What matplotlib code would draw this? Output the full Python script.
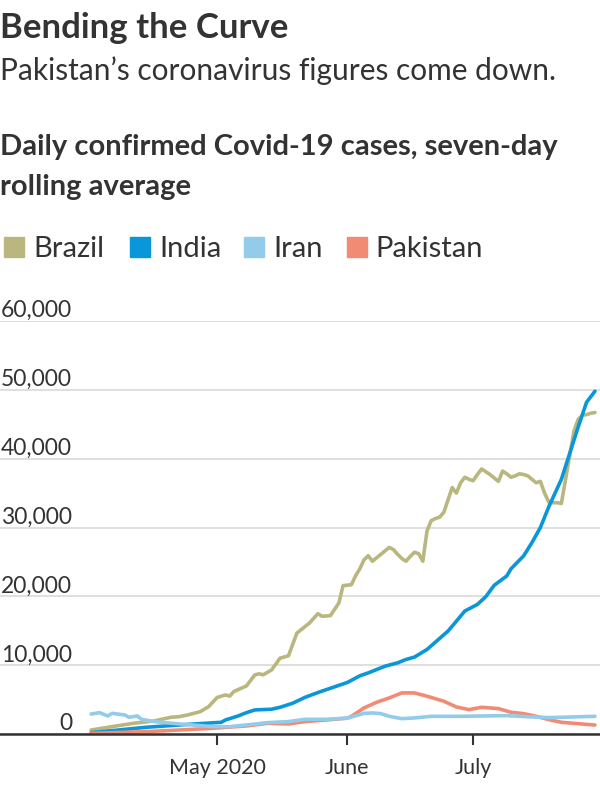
import matplotlib
matplotlib.use("Agg")
import matplotlib.pyplot as plt
import matplotlib.dates as mdates
from matplotlib.patches import Rectangle
from matplotlib import font_manager
from datetime import datetime

# ───── Data (7-day rolling avg of daily confirmed cases) ─────
brazil_dates = ["2020-04-01", "2020-04-06", "2020-04-11", "2020-04-16", "2020-04-20", "2020-04-22",
                "2020-04-24", "2020-04-27", "2020-04-29", "2020-05-01", "2020-05-03", "2020-05-04",
                "2020-05-05", "2020-05-08", "2020-05-10", "2020-05-11", "2020-05-12", "2020-05-14",
                "2020-05-16", "2020-05-18", "2020-05-20", "2020-05-23", "2020-05-25", "2020-05-26",
                "2020-05-28", "2020-05-30", "2020-05-31", "2020-06-02", "2020-06-03", "2020-06-04",
                "2020-06-05", "2020-06-06", "2020-06-07", "2020-06-08", "2020-06-09", "2020-06-10",
                "2020-06-11", "2020-06-12", "2020-06-13", "2020-06-14", "2020-06-15", "2020-06-16",
                "2020-06-17", "2020-06-18", "2020-06-19", "2020-06-20", "2020-06-21", "2020-06-22",
                "2020-06-23", "2020-06-24", "2020-06-25", "2020-06-26", "2020-06-27", "2020-06-28",
                "2020-06-29", "2020-06-30", "2020-07-01", "2020-07-02", "2020-07-03", "2020-07-04",
                "2020-07-05", "2020-07-06", "2020-07-07", "2020-07-08", "2020-07-09", "2020-07-10",
                "2020-07-11", "2020-07-12", "2020-07-13", "2020-07-14", "2020-07-15", "2020-07-16",
                "2020-07-17", "2020-07-18", "2020-07-19", "2020-07-20", "2020-07-21", "2020-07-22",
                "2020-07-23", "2020-07-24", "2020-07-25", "2020-07-26", "2020-07-27", "2020-07-28",
                "2020-07-29", "2020-07-30"]
brazil_vals = [580, 1070, 1550, 1890, 2430, 2520,
               2770, 3250, 3980, 5300, 5680, 5500,
               6170, 6990, 8590, 8740, 8600, 9320,
               11020, 11360, 14660, 16120, 17480, 17100,
               17200, 19030, 21550, 21700, 23000, 24000,
               25300, 25900, 25100, 25600, 26100, 26600,
               27100, 26800, 26100, 25500, 25100, 25800,
               26400, 26200, 25100, 29500, 31000, 31300,
               31500, 32200, 34000, 35800, 35000, 36500,
               37300, 37000, 36800, 37700, 38500, 38100,
               37700, 37200, 36700, 38200, 37800, 37300,
               37500, 37800, 37700, 37500, 37000, 36500,
               36700, 35000, 33700, 33600, 33600, 33500,
               37000, 40500, 44000, 45700, 46300, 46400,
               46600, 46700]

india_dates = ["2020-04-01", "2020-04-06", "2020-04-14", "2020-04-22", "2020-04-28", "2020-05-02",
               "2020-05-03", "2020-05-06", "2020-05-08", "2020-05-10", "2020-05-14", "2020-05-16",
               "2020-05-19", "2020-05-22", "2020-05-25", "2020-05-28", "2020-06-01", "2020-06-04",
               "2020-06-06", "2020-06-10", "2020-06-13", "2020-06-15", "2020-06-17", "2020-06-20",
               "2020-06-22", "2020-06-25", "2020-06-27", "2020-06-29", "2020-07-02", "2020-07-04",
               "2020-07-06", "2020-07-09", "2020-07-10", "2020-07-13", "2020-07-15", "2020-07-17",
               "2020-07-18", "2020-07-19", "2020-07-22", "2020-07-24", "2020-07-26", "2020-07-28",
               "2020-07-30"]
india_vals = [200, 490, 970, 1310, 1550, 1700,
              2040, 2620, 3100, 3500, 3600, 3880,
              4470, 5340, 6020, 6650, 7480, 8450,
              8880, 9850, 10340, 10830, 11170, 12280,
              13350, 14950, 16400, 17860, 18830, 19950,
              21600, 22960, 24000, 25870, 27810, 30000,
              31500, 33000, 37000, 40800, 44600, 48200,
              49800]

iran_dates = ["2020-04-01", "2020-04-03", "2020-04-05", "2020-04-06", "2020-04-09", "2020-04-10",
              "2020-04-12", "2020-04-13", "2020-04-16", "2020-04-22", "2020-04-30", "2020-05-04",
              "2020-05-08", "2020-05-13", "2020-05-18", "2020-05-22", "2020-05-27", "2020-06-01",
              "2020-06-05", "2020-06-07", "2020-06-09", "2020-06-11", "2020-06-14", "2020-06-17",
              "2020-06-21", "2020-06-28", "2020-07-09", "2020-07-15", "2020-07-19", "2020-07-25",
              "2020-07-30"]
iran_vals = [2900, 3100, 2620, 3000, 2770, 2430,
             2620, 2140, 1800, 1460, 1070, 1070,
             1310, 1650, 1800, 2140, 2140, 2300,
             3000, 3060, 2960, 2570, 2230, 2330,
             2570, 2570, 2670, 2480, 2380, 2480,
             2570]

pakistan_dates = ["2020-04-01", "2020-04-14", "2020-04-22", "2020-04-30", "2020-05-08", "2020-05-13",
                  "2020-05-18", "2020-05-22", "2020-05-27", "2020-06-01", "2020-06-02", "2020-06-05",
                  "2020-06-08", "2020-06-11", "2020-06-14", "2020-06-17", "2020-06-20", "2020-06-24",
                  "2020-06-27", "2020-06-30", "2020-07-03", "2020-07-07", "2020-07-10", "2020-07-13",
                  "2020-07-16", "2020-07-19", "2020-07-22", "2020-07-26", "2020-07-30"]
pakistan_vals = [100, 340, 580, 830, 1170, 1550,
                 1460, 1800, 2040, 2300, 2570, 3790,
                 4610, 5240, 5970, 5970, 5490, 4760,
                 3930, 3540, 3880, 3690, 3160, 2960,
                 2570, 2090, 1700, 1500, 1300]

series = [
    ("Brazil", brazil_dates, brazil_vals, "#b9b77f"),
    ("India", india_dates, india_vals, "#0a97d9"),
    ("Iran", iran_dates, iran_vals, "#93cbea"),
    ("Pakistan", pakistan_dates, pakistan_vals, "#f28b74"),
]
draw_order = ["Brazil", "India", "Pakistan", "Iran"]

y_ticks = [0, 10000, 20000, 30000, 40000, 50000, 60000]
x_ticks = ["2020-05-01", "2020-06-01", "2020-07-01"]
x_tick_labels = ["May 2020", "June", "July"]

# ───── Style ─────
names = {f.name for f in font_manager.fontManager.ttflist}
FONT = "Lato" if "Lato" in names else "DejaVu Sans"
plt.rcParams["font.family"] = [FONT, "DejaVu Sans"]
TXT = "#333333"


def to_dt(s):
    return datetime.strptime(s, "%Y-%m-%d")


fig = plt.figure(figsize=(6, 8), dpi=100)
ax = fig.add_axes([0, 0.0825, 1.0, 0.51625])

for name in draw_order:
    _, dates, vals, color = next(s for s in series if s[0] == name)
    ax.plot([to_dt(d) for d in dates], vals, color=color, lw=2.6,
            solid_joinstyle="round", solid_capstyle="round", zorder=3)

start = mdates.date2num(datetime(2020, 4, 1))
ax.set_xlim(start - 21.7, start + 121.2)
ax.set_ylim(0, 60000)

ax.set_yticks(y_ticks)
ax.yaxis.set_tick_params(length=0, labelleft=False)
ax.grid(axis="y", color="#dcdcdc", lw=1.3, zorder=0)
for v in y_ticks:
    ax.text(0.12, v + 550, f"{v:,}", transform=ax.get_yaxis_transform(),
            ha="right", va="baseline", fontsize=16.5, color=TXT)

ax.set_xticks([to_dt(d) for d in x_ticks])
ax.set_xticklabels(x_tick_labels, fontsize=15.5, color=TXT)
ax.tick_params(axis="x", length=8, width=1.5, color=TXT, pad=9)

for sp in ["top", "right", "left"]:
    ax.spines[sp].set_visible(False)
ax.spines["bottom"].set_color(TXT)
ax.spines["bottom"].set_linewidth(1.8)
ax.spines["bottom"].set_zorder(4)

# ───── Headings ─────
fig.text(0.0, 0.9525, "Bending the Curve", fontsize=25, fontweight="bold",
         color=TXT, va="baseline", ha="left")
fig.text(0.0, 0.90, "Pakistan\u2019s coronavirus figures come down.", fontsize=21.5,
         color=TXT, va="baseline", ha="left")
fig.text(0.0, 0.806, "Daily confirmed Covid-19 cases, seven-day", fontsize=21,
         fontweight="bold", color=TXT, va="baseline", ha="left")
fig.text(0.0, 0.756, "rolling average", fontsize=21,
         fontweight="bold", color=TXT, va="baseline", ha="left")

# ───── Legend ─────
leg_x = [0.007, 0.217, 0.407, 0.578]
for (name, _, _, color), lx in zip(series, leg_x):
    fig.patches.append(Rectangle((lx, 0.679), 0.033, 0.025, color=color,
                                 transform=fig.transFigure))
    fig.text(lx + 0.048, 0.679, name, fontsize=21, color=TXT, va="baseline",
             ha="left")

fig.savefig("out.png", dpi=100)
